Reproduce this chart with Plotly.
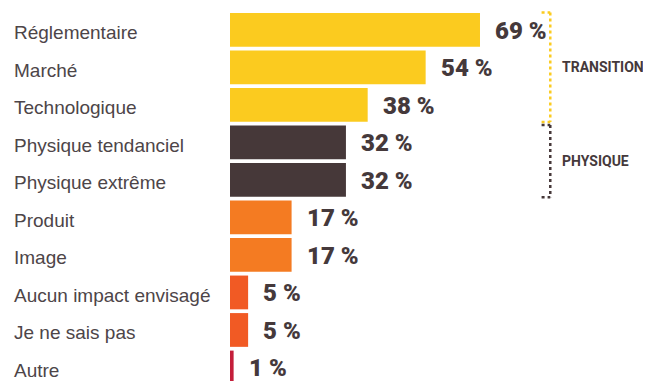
import plotly.graph_objects as go

# answers (share of respondents, %)
categories = ["Réglementaire", "Marché", "Technologique", "Physique tendanciel",
              "Physique extrême", "Produit", "Image", "Aucun impact envisagé",
              "Je ne sais pas", "Autre"]
values = [69, 54, 38, 32, 32, 17, 17, 5, 5, 1]
colours = ["#FBCB1F", "#FBCB1F", "#FBCB1F", "#463839", "#463839",
           "#F47B22", "#F47B22", "#F15A24", "#F15A24", "#C41E3A"]

# risk families grouping the first five rows
groups = ["TRANSITION", "PHYSIQUE"]
group_rows = [(0, 2), (3, 4)]
group_colours = ["#FBCB1F", "#463839"]

label_font = "Liberation Sans, Arial, Helvetica, sans-serif"
value_font = "Roboto, Arial, sans-serif"
ink = "#45393B"

ypos = list(range(len(categories)))

# the page body has an 8px margin, margins below make up for it
fig = go.Figure(
    data=go.Bar(
        x=values,
        y=ypos,
        orientation="h",
        width=0.9,
        marker={"color": colours, "line": {"width": 0}},
        hoverinfo="skip",
    ),
    layout={
        "width": 651,
        "height": 381,
        "margin": {"l": 222, "r": 8, "t": 3, "b": 8},
        "plot_bgcolor": "white",
        "paper_bgcolor": "white",
        "showlegend": False,
        "xaxis": {"range": [0, 116.2], "visible": False, "fixedrange": True},
        "yaxis": {"range": [9.36, -0.5], "visible": False, "fixedrange": True},
    }
)

# category names on the left
for i, cat in enumerate(categories):
    fig.add_annotation(
        x=0, xref="paper", y=i, yref="y",
        text=cat, showarrow=False,
        xanchor="left", yanchor="middle", xshift=-218, yshift=-3,
        font={"family": label_font, "size": 19, "color": "#4D4548"},
    )

# values next to the bars
for i, v in enumerate(values):
    fig.add_annotation(
        x=v, y=i, text="%d %%" % v, showarrow=False,
        xanchor="left", yanchor="middle", xshift=13, yshift=-1,
        font={"family": value_font, "size": 24, "color": ink, "weight": 900},
    )

# dotted brackets and group names
for g, (r0, r1), c in zip(groups, group_rows, group_colours):
    y0 = r0 - 0.5 + 0.04
    y1 = r1 + 0.5 - 0.04
    fig.add_shape(type="line", xref="x", yref="y", x0=88.4, x1=88.4, y0=y0, y1=y1,
                  line={"color": c, "width": 2.5, "dash": "dot"})
    for yy in (y0, y1):
        fig.add_shape(type="line", xref="x", yref="y", x0=86.0, x1=88.4, y0=yy, y1=yy,
                      line={"color": c, "width": 2.5, "dash": "dot"})
    fig.add_annotation(
        x=91.2, y=(r0 + r1) / 2, text="<b>%s</b>" % g, showarrow=False,
        xanchor="left", yanchor="middle",
        font={"family": value_font, "size": 14, "color": ink},
    )

fig.write_html("out.html")
